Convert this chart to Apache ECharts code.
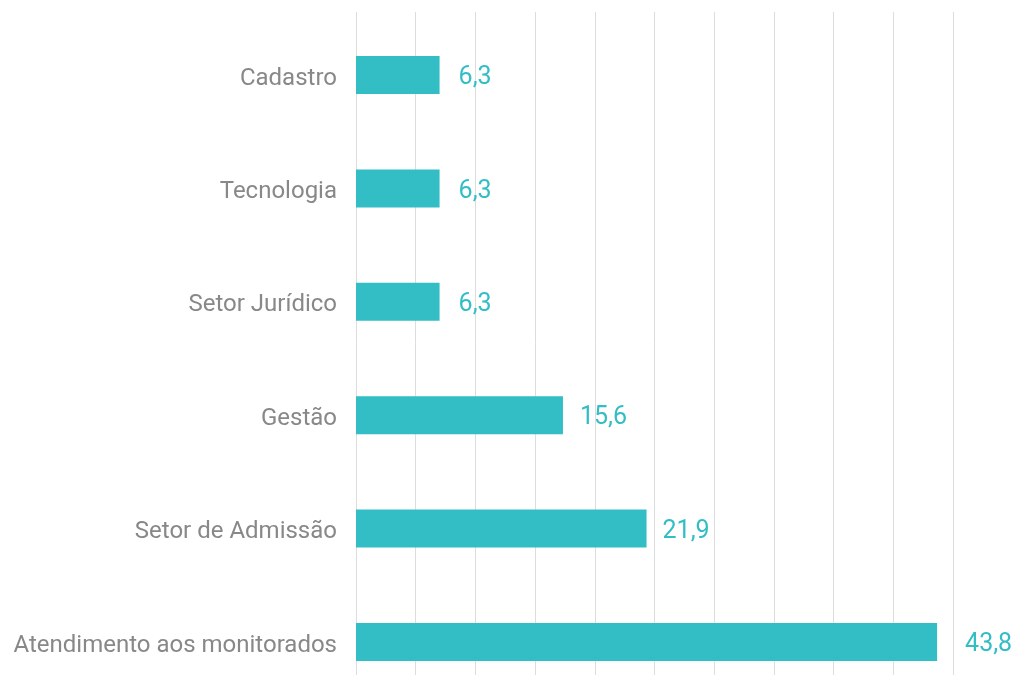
<!DOCTYPE html>
<html>
<head>
<meta charset="utf-8">
<script src="https://cdn.jsdelivr.net/npm/echarts@6/dist/echarts.min.js"></script>
<style>
html,body{margin:0;padding:0;background:#fff;}
#chart{width:1016px;height:675px;}
</style>
</head>
<body>
<div id="chart"></div>
<script>
var categories = ["Cadastro", "Tecnologia", "Setor Jurídico", "Gestão", "Setor de Admissão", "Atendimento aos monitorados"];
var values = [6.3, 6.3, 6.3, 15.6, 21.9, 43.8];
var labelDistances = [19, 19, 19, 17, 16, 28];

var chart = echarts.init(document.getElementById('chart'), null, {renderer: 'canvas'});
chart.setOption({
  backgroundColor: '#ffffff',
  animation: false,
  textStyle: {fontFamily: 'Roboto'},
  grid: [
    {left: 356, top: 12, width: 597, height: 663, containLabel: false},
    {left: 356, top: 75, width: 597, height: 567, containLabel: false}
  ],
  xAxis: [{
    gridIndex: 0, type: 'value', min: 0, max: 45, interval: 4.5,
    axisLine: {show: false}, axisTick: {show: false}, axisLabel: {show: false},
    splitLine: {show: true, lineStyle: {color: '#dddddd', width: 1}}
  }, {
    gridIndex: 1, type: 'value', min: 0, max: 45, interval: 4.5,
    axisLine: {show: false}, axisTick: {show: false}, axisLabel: {show: false},
    splitLine: {show: false}
  }],
  yAxis: [{
    gridIndex: 0, type: 'value', show: false, splitLine: {show: false}
  }, {
    gridIndex: 1, type: 'category', data: categories, inverse: true, boundaryGap: false,
    axisLine: {show: false}, axisTick: {show: false},
    axisLabel: {
      margin: 19,
      formatter: function (v) { return '{a|' + v + '}'; },
      rich: {a: {color: '#888888', fontSize: 24, fontFamily: 'Roboto', padding: [7, 0, 0, 0]}}
    },
    splitLine: {show: false}
  }],
  series: [{
    type: 'bar',
    xAxisIndex: 1, yAxisIndex: 1,
    clip: false,
    data: values.map(function (v, i) {
      return {value: v, label: {distance: labelDistances[i]}};
    }),
    barWidth: 38,
    itemStyle: {color: '#33BEC5'},
    label: {
      show: true, position: 'right', color: '#33BDC5', fontSize: 25, fontFamily: 'Roboto',
      offset: [0, 3],
      formatter: function (p) { return p.value.toFixed(1).replace('.', ','); }
    }
  }]
});
</script>
</body>
</html>
